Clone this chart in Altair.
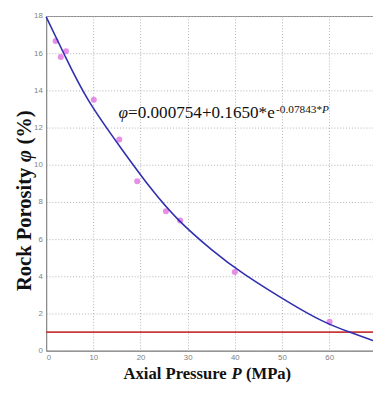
import altair as alt
import pandas as pd

# measured data points (Axial pressure P in MPa, rock porosity in %)
pressure_pts = [2.0, 3.1, 4.2, 10.1, 15.5, 19.3, 25.4, 28.4, 40.0, 60.1]
porosity_pts = [16.66, 15.8, 16.1, 13.5, 11.36, 9.11, 7.5, 7.0, 4.23, 1.55]

# fitted curve
curve_p = [0, 4, 9, 16, 22, 28, 35, 42, 52, 59, 64.3, 69.3]
curve_phi = [17.95, 15.85, 13.45, 10.85, 8.8, 7.05, 5.45, 4.12, 2.52, 1.55, 1.0, 0.54]

# horizontal threshold line
limit_phi = [1.0]

x_ticks = [0, 10, 20, 30, 40, 50, 60]
y_ticks = [0, 2, 4, 6, 8, 10, 12, 14, 16, 18]

pts = pd.DataFrame({"P": pressure_pts, "phi": porosity_pts})
curve = pd.DataFrame({"P": curve_p, "phi": curve_phi})
limit = pd.DataFrame({"phi": limit_phi})

xscale = alt.Scale(domain=[0, 69.3], nice=False, zero=False)
yscale = alt.Scale(domain=[0, 18], nice=False)

axis_common = dict(
    grid=True, gridDash=[1, 2], gridColor="#b0b0b0", gridWidth=1,
    ticks=False, domainColor="#888888", domainWidth=1,
    labelFont="Liberation Sans", labelFontSize=8, labelColor="#808080",
    labelOverlap=False, title=None,
)
xaxis = alt.Axis(values=x_ticks, labelPadding=3, **axis_common)
yaxis = alt.Axis(values=y_ticks, labelPadding=4, **axis_common)

points = alt.Chart(pts).mark_circle(size=38, color="#e37be3", opacity=0.85).encode(
    x=alt.X("P:Q", scale=xscale, axis=xaxis),
    y=alt.Y("phi:Q", scale=yscale, axis=yaxis),
)

rule = alt.Chart(limit).mark_rule(color="#c83a3a", strokeWidth=2).encode(
    y=alt.Y("phi:Q", scale=yscale, axis=yaxis),
)

line = alt.Chart(curve).mark_line(color="#2f2fb0", strokeWidth=1.6, interpolate="natural").encode(
    x=alt.X("P:Q", scale=xscale, axis=xaxis),
    y=alt.Y("phi:Q", scale=yscale, axis=yaxis),
)


def txt(label, x, y, size, bold=False, italic=False, angle=0, baseline="alphabetic"):
    kw = dict(
        font="Liberation Serif", fontSize=size, align="left", baseline=baseline,
        color="#111111",
    )
    if bold:
        kw["fontWeight"] = "bold"
    if italic:
        kw["fontStyle"] = "italic"
    if angle:
        kw["angle"] = angle
    return alt.Chart(pd.DataFrame({"t": [label]})).mark_text(**kw).encode(
        text="t:N", x=alt.value(x), y=alt.value(y)
    )


# x-axis title: "Axial Pressure P (MPa)"
xt_size = 17
xt_x = 79
xt_y = 371
x_title = [
    txt("Axial Pressure", xt_x, xt_y, xt_size, bold=True),
    txt("P", xt_x + 6.499 * xt_size, xt_y, xt_size, bold=True, italic=True),
    txt("(MPa)", xt_x + (6.499 + 0.611 + 0.25) * xt_size, xt_y, xt_size, bold=True),
]

# y-axis title: "Rock Porosity φ (%)" (rotated)
yt_size = 21
yt_x = -22
yt_y = 281
y_title = [
    txt("Rock Porosity", yt_x, yt_y, yt_size, bold=True, angle=270, baseline="middle"),
    txt("φ", yt_x, yt_y - 6.277 * yt_size, yt_size, bold=True, italic=True, angle=270, baseline="middle"),
    txt("(%)", yt_x, yt_y - (6.277 + 0.6 + 0.25) * yt_size, yt_size, bold=True, angle=270, baseline="middle"),
]

# equation annotation
eq_size = 17.5
sup_size = 11.5
eq_y = 104
sup_y = 99
annotation = [
    txt("φ", 74, eq_y, eq_size, italic=True),
    txt("=0.000754+0.1650*e", 83.7, eq_y, eq_size),
    txt("-0.07843*", 235, sup_y, sup_size),
    txt("P", 235 + 4.083 * sup_size, sup_y, sup_size, italic=True),
]

chart = alt.layer(points, rule, line, *x_title, *y_title, *annotation).properties(
    width=334,
    height=342,
    padding={"left": 39, "top": 4, "right": 0, "bottom": 38},
    autosize=alt.AutoSizeParams(type="none"),
).configure_view(stroke="#888888", strokeWidth=1)

chart.save("out.html", embed_options={"renderer": "svg", "actions": False})
